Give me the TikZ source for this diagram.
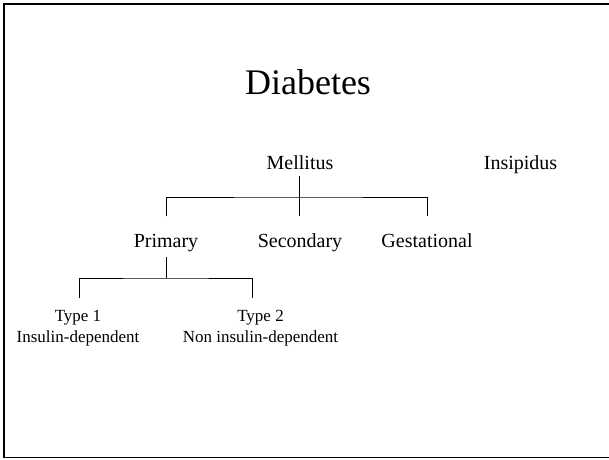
\documentclass[tikz,border=0pt]{standalone}
\usepackage{fontspec}
\setmainfont{Liberation Serif}
\usepackage{tikz}
\usetikzlibrary{positioning,calc}

\tikzset{
    title/.style={anchor=base, font=\fontsize{36}{40}\selectfont},
    label/.style={anchor=base, font=\fontsize{20}{24}\selectfont},
    leaf/.style={anchor=north, inner sep=0pt, align=center, font=\fontsize{17}{21}\selectfont},
    branch/.style={line width=0.8pt}
}

\begin{document}
\begin{tikzpicture}[x=1pt, y=1pt]
    \useasboundingbox (0,0) rectangle (609,459);
    \draw [line width=1.6pt] (4,1.5) -- (4,455) -- (615,455);
    \draw [line width=1.6pt] (4,1.5) -- (615,1.5);

    \node [title] (dia) at (308,365) {Diabetes};
    \node [label] (mel) at (300,290) {Mellitus};
    \node [label] (ins) at (520.5,290) {Insipidus};
    \node [label] (pri) at (166,212) {Primary};
    \node [label] (sec) at (300,212) {Secondary};
    \node [label] (ges) at (427,212) {Gestational};
    \node [leaf] (t1) at (78,149) {Type 1\\Insulin-dependent};
    \node [leaf] (t2) at (260.5,149) {Type 2\\Non insulin-dependent};

    % Mellitus branches
    \coordinate (mj) at ($(mel.base)+(0,-28)$);
    \draw [branch] ([shift={(-1pt,-7pt)}]mel.base) -- ([shift={(-1pt,31pt)}]sec.base);
    \draw [branch] ([yshift=31pt]pri.base) |- (mj) -| ([yshift=31pt]ges.base);

    % Primary branches
    \coordinate (pj) at ($(pri.base)+(0,-31)$);
    \draw [branch] ([yshift=-10pt]pri.base) -- (pj);
    \draw [branch] ([shift={(1pt,12pt)}]t1.north) |- (pj) -| ([shift={(-8.5pt,12pt)}]t2.north);
\end{tikzpicture}
\end{document}
